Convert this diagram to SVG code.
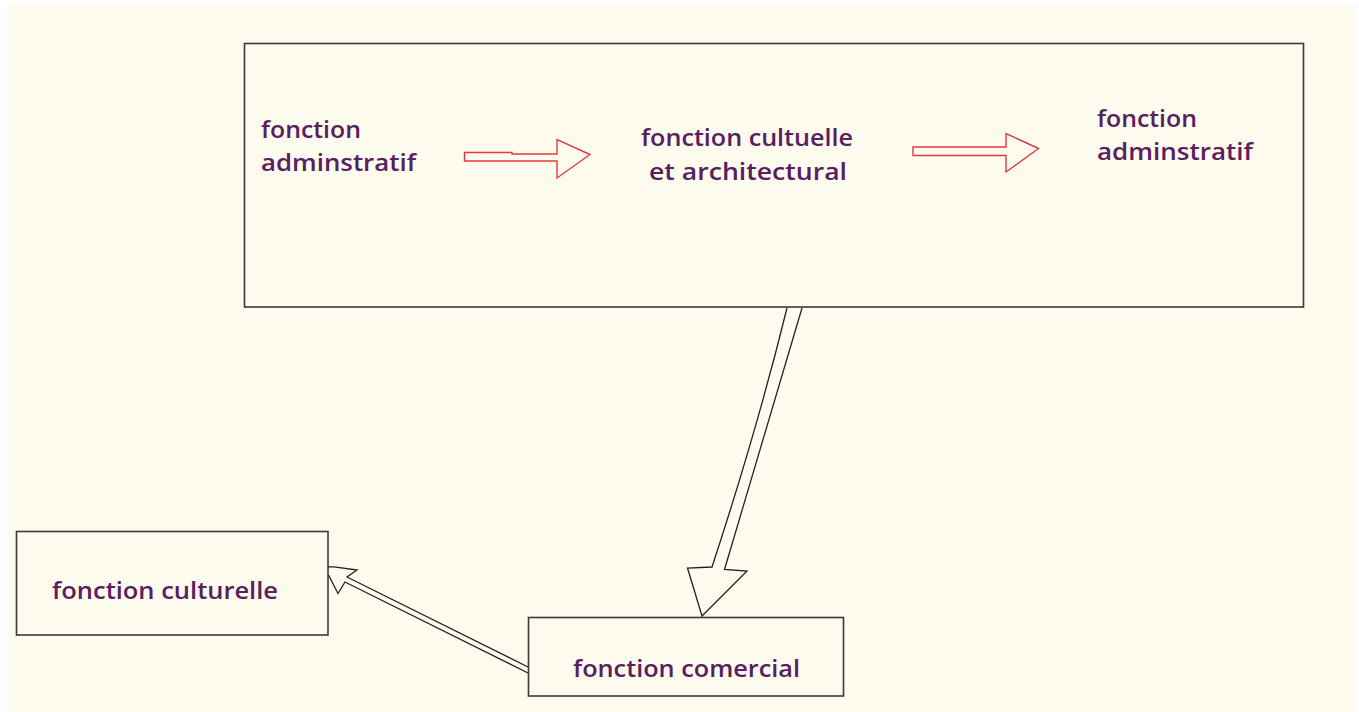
<svg xmlns="http://www.w3.org/2000/svg" width="1359" height="712" viewBox="0 0 1359 712">
<style>
.box{fill:none;stroke:#3a3a3a;stroke-width:1.6}
.lbl{font-family:"Open Sans","Liberation Sans",sans-serif;font-size:24px;font-weight:600;fill:#58205f}
.red{fill:none;stroke:#e63a3a;stroke-width:1.4;stroke-linejoin:miter}
.blk{fill:none;stroke:#222;stroke-width:1.3;stroke-linejoin:miter}
</style>
<rect x="0" y="0" width="1359" height="712" fill="#ffffff"/>
<rect x="7" y="5" width="1348" height="707" fill="#fdfaee"/>
<g id="main">
<rect class="box" x="244.5" y="43.5" width="1059" height="263.5"/>
<g id="n-admin1">
<text class="lbl" x="261" y="138" textLength="100" lengthAdjust="spacingAndGlyphs">fonction</text>
<text class="lbl" x="261" y="171" textLength="155" lengthAdjust="spacingAndGlyphs">adminstratif</text>
</g>
<g id="n-culturelle-archi">
<text class="lbl" x="641" y="146" textLength="212" lengthAdjust="spacingAndGlyphs">fonction cultuelle</text>
<text class="lbl" x="649" y="180" textLength="198" lengthAdjust="spacingAndGlyphs">et architectural</text>
</g>
<g id="n-admin2">
<text class="lbl" x="1097" y="127" textLength="100" lengthAdjust="spacingAndGlyphs">fonction</text>
<text class="lbl" x="1097" y="160" textLength="156" lengthAdjust="spacingAndGlyphs">adminstratif</text>
</g>
</g>
<g id="n-culturelle">
<rect class="box" x="16.5" y="531.5" width="311.5" height="103.5"/>
<text class="lbl" x="52" y="599" textLength="226" lengthAdjust="spacingAndGlyphs">fonction culturelle</text>
</g>
<g id="n-comercial">
<rect class="box" x="528.5" y="617.5" width="315" height="78.5"/>
<text class="lbl" x="573" y="677" textLength="227" lengthAdjust="spacingAndGlyphs">fonction comercial</text>
</g>
<g id="connectors">
<polygon class="red" points="464.5,152.5 512,152.5 512,154 557,154 557,139.5 590,154.5 557,178 557,161 464.5,161"/>
<polygon class="red" points="913,147 1006,147 1006,133.5 1038.5,148.5 1006,172 1006,155.5 913,155.5"/>
<path class="blk" d="M787,308 Q757,430 712,567 L687.5,568 L702,616 L747,571 L724.5,569.5 L802,308"/>
<path class="blk" d="M528,667 L347,577 L357,570 L334,566.8 L328,566.8 M328.5,575 L338,593.5 L345,582 L528,673"/>
</g>
</svg>
